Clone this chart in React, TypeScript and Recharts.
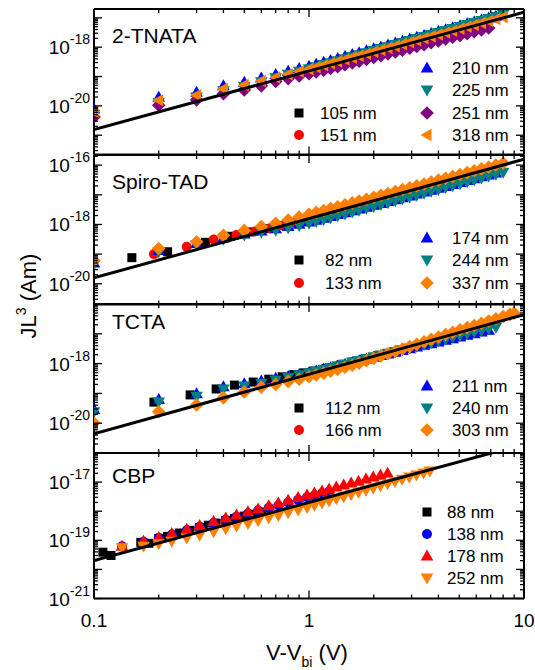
import React from 'react';
import { ScatterChart, Scatter, XAxis, YAxis } from 'recharts';

const FONT = '"Liberation Sans", Arial, Helvetica, sans-serif';

// ---- data (V - Vbi in volts, JL^3 in A·m) ----
const fitV = [0.1, 10];

// 2-TNATA
const tnataV = [0.1, 0.2, 0.3, 0.4, 0.5, 0.6, 0.7, 0.8, 0.9, 1.0, 1.08, 1.17, 1.26, 1.36, 1.47, 1.59, 1.71, 1.85, 2.0, 2.16, 2.33, 2.52, 2.72, 2.94, 3.17, 3.43, 3.7, 4.0, 4.32, 4.66, 5.04, 5.44, 5.87, 6.34, 6.85, 7.4, 8.0, 8.6];
const tnata105: number[] = [];
const tnata151: number[] = [];
const tnata210 = [7.8e-21, 1.95e-20, 2.9e-20, 4.8e-20, 6.4e-20, 8.9e-20, 1.17e-19, 1.5e-19, 1.86e-19, 2.24e-19, 2.61e-19, 3.05e-19, 3.54e-19, 4.11e-19, 4.8e-19, 5.59e-19, 6.43e-19, 7.53e-19, 8.76e-19, 1.02e-18, 1.18e-18, 1.38e-18, 1.6e-18, 1.87e-18, 2.16e-18, 2.52e-18, 2.93e-18, 3.41e-18, 3.96e-18, 4.6e-18, 5.36e-18, 6.24e-18, 7.24e-18, 8.44e-18, 9.81e-18, 1.14e-17];
const tnata225 = [5.2e-21, 1.3e-20, 2.0e-20, 3.3e-20, 4.6e-20, 6.6e-20, 9.0e-20, 1.2e-19, 1.5e-19, 1.85e-19, 2.17e-19, 2.55e-19, 2.97e-19, 3.48e-19, 4.06e-19, 4.78e-19, 5.56e-19, 6.5e-19, 7.64e-19, 8.96e-19, 1.04e-18, 1.23e-18, 1.44e-18, 1.68e-18, 1.96e-18, 2.31e-18, 2.68e-18, 3.15e-18, 3.7e-18, 4.3e-18, 5.05e-18, 5.92e-18, 6.89e-18, 8.08e-18, 9.48e-18, 1.11e-17, 1.3e-17];
const tnata251 = [4.2e-21, 1.05e-20, 1.6e-20, 2.6e-20, 3.5e-20, 4.8e-20, 6.8e-20, 8.5e-20, 1.04e-19, 1.24e-19, 1.42e-19, 1.64e-19, 1.89e-19, 2.16e-19, 2.51e-19, 2.88e-19, 3.3e-19, 3.83e-19, 4.44e-19, 5.13e-19, 5.92e-19, 6.86e-19, 7.92e-19, 9.16e-19, 1.06e-18, 1.22e-18, 1.41e-18, 1.63e-18, 1.89e-18, 2.17e-18, 2.51e-18, 2.9e-18, 3.36e-18, 3.9e-18, 4.5e-18];
const tnata318 = [6.2e-21, 1.55e-20, 2.3e-20, 3.8e-20, 5.1e-20, 7.1e-20, 9.3e-20, 1.2e-19, 1.48e-19, 1.78e-19, 2.08e-19, 2.42e-19, 2.81e-19, 3.26e-19, 3.8e-19, 4.42e-19, 5.12e-19, 5.96e-19, 6.96e-19, 8.07e-19, 9.4e-19, 1.09e-18, 1.27e-18, 1.48e-18, 1.72e-18, 2.0e-18, 2.33e-18, 2.7e-18, 3.15e-18, 3.65e-18, 4.27e-18, 4.94e-18, 5.75e-18, 6.71e-18, 7.79e-18, 9.09e-18, 1.06e-17];
const tnataFit = [1.55e-21, 1.55e-17];

// Spiro-TAD
const spiroV = tnataV;
const spiro82V = [0.15, 0.22, 0.33, 0.43, 0.53, 0.63, 0.73, 0.83, 0.93, 1.03, 1.2, 1.4];
const spiro82 = [7.6e-20, 1.2e-19, 2.5e-19, 4.0e-19, 5.6e-19, 7.2e-19, 9.3e-19, 1.15e-18, 1.38e-18, 1.62e-18, 2.1e-18, 2.8e-18];
const spiro133V = [0.19, 0.27, 0.36, 0.46, 0.56, 0.66, 0.76, 0.86, 0.96, 1.1, 1.3, 1.5, 1.8, 2.1];
const spiro133 = [1.0e-19, 1.78e-19, 3.1e-19, 4.4e-19, 5.8e-19, 7.4e-19, 9.1e-19, 1.12e-18, 1.35e-18, 1.6e-18, 2.1e-18, 2.7e-18, 3.6e-18, 4.8e-18];
const spiro174 = [5.0e-20, 1.32e-19, 2.3e-19, 3.5e-19, 4.8e-19, 6.0e-19, 7.1e-19, 8.5e-19, 1.02e-18, 1.2e-18, 1.39e-18, 1.62e-18, 1.86e-18, 2.15e-18, 2.49e-18, 2.88e-18, 3.3e-18, 3.83e-18, 4.44e-18, 5.13e-18, 5.92e-18, 6.86e-18, 7.92e-18, 9.16e-18, 1.06e-17, 1.24e-17, 1.42e-17, 1.66e-17, 1.92e-17, 2.24e-17, 2.59e-17, 3.02e-17, 3.48e-17, 4.06e-17, 4.69e-17, 5.48e-17];
const spiro244 = [4.5e-20, 1.2e-19, 2.1e-19, 3.2e-19, 4.4e-19, 5.6e-19, 6.5e-19, 7.8e-19, 9.3e-19, 1.1e-18, 1.27e-18, 1.48e-18, 1.7e-18, 1.96e-18, 2.27e-18, 2.63e-18, 3.01e-18, 3.49e-18, 4.04e-18, 4.67e-18, 5.4e-18, 6.29e-18, 7.25e-18, 8.43e-18, 9.75e-18, 1.13e-17, 1.31e-17, 1.52e-17, 1.75e-17, 2.03e-17, 2.36e-17, 2.74e-17, 3.17e-17, 3.68e-17, 4.27e-17, 4.96e-17, 5.76e-17];
const spiro337 = [6.0e-20, 1.55e-19, 2.6e-19, 4.3e-19, 6.3e-19, 8.5e-19, 1.1e-18, 1.41e-18, 1.78e-18, 2.2e-18, 2.55e-18, 2.97e-18, 3.43e-18, 3.96e-18, 4.6e-18, 5.33e-18, 6.14e-18, 7.12e-18, 8.28e-18, 9.61e-18, 1.11e-17, 1.29e-17, 1.49e-17, 1.73e-17, 2.0e-17, 2.32e-17, 2.68e-17, 3.12e-17, 3.6e-17, 4.17e-17, 4.85e-17, 5.59e-17, 6.48e-17, 7.52e-17, 8.68e-17, 1.01e-16, 1.17e-16];
const spiroFit = [1.58e-20, 1.58e-16];

// TCTA
const tctaV = [0.1, 0.2, 0.3, 0.4, 0.5, 0.6, 0.7, 0.8, 0.9, 1.0, 1.08, 1.17, 1.26, 1.36, 1.47, 1.59, 1.71, 1.85, 2.0, 2.16, 2.33, 2.52, 2.72, 2.94, 3.17, 3.43, 3.7, 4.0, 4.32, 4.66, 5.04, 5.44, 5.87, 6.34, 6.85, 7.4, 8.0, 8.6, 9.0];
const tcta112V = [0.19, 0.28, 0.37, 0.45, 0.55, 0.65, 0.75, 0.85, 0.95, 1.05, 1.2, 1.4, 1.6, 1.8, 2.1, 2.4];
const tcta112 = [5.1e-20, 8.9e-20, 1.41e-19, 1.9e-19, 2.4e-19, 3.0e-19, 3.6e-19, 4.3e-19, 4.9e-19, 5.6e-19, 6.9e-19, 8.9e-19, 1.12e-18, 1.38e-18, 1.82e-18, 2.3e-18];
const tcta166: number[] = [];
const tcta211 = [2.9e-20, 6.2e-20, 9.8e-20, 1.66e-19, 2.1e-19, 2.6e-19, 3.2e-19, 3.7e-19, 4.3e-19, 4.9e-19, 5.6e-19, 6.43e-19, 7.3e-19, 8.32e-19, 9.55e-19, 1.09e-18, 1.24e-18, 1.42e-18, 1.63e-18, 1.86e-18, 2.12e-18, 2.42e-18, 2.76e-18, 3.15e-18, 3.58e-18, 4.09e-18, 4.65e-18, 5.31e-18, 6.05e-18, 6.86e-18, 7.82e-18, 8.88e-18, 1.01e-17, 1.15e-17, 1.31e-17];
const tcta240 = [2.4e-20, 5.1e-20, 8.1e-20, 1.41e-19, 1.78e-19, 2.2e-19, 2.8e-19, 3.5e-19, 4.2e-19, 4.9e-19, 5.62e-19, 6.49e-19, 7.4e-19, 8.47e-19, 9.77e-19, 1.13e-18, 1.28e-18, 1.47e-18, 1.69e-18, 1.94e-18, 2.22e-18, 2.54e-18, 2.91e-18, 3.34e-18, 3.82e-18, 4.4e-18, 5.04e-18, 5.79e-18, 6.64e-18, 7.6e-18, 8.74e-18, 1.0e-17, 1.14e-17, 1.29e-17, 1.47e-17, 1.66e-17];
const tcta303 = [1.02e-20, 2.4e-20, 4.1e-20, 7.1e-20, 1.12e-19, 1.62e-19, 2.0e-19, 2.5e-19, 3.0e-19, 3.6e-19, 4.14e-19, 4.79e-19, 5.52e-19, 6.42e-19, 7.5e-19, 8.85e-19, 1.04e-18, 1.25e-18, 1.5e-18, 1.8e-18, 2.14e-18, 2.57e-18, 3.09e-18, 3.72e-18, 4.47e-18, 5.41e-18, 6.5e-18, 7.84e-18, 9.42e-18, 1.13e-17, 1.36e-17, 1.61e-17, 1.91e-17, 2.27e-17, 2.7e-17, 3.2e-17, 3.81e-17, 4.47e-17, 4.94e-17];
const tctaFit = [4.4e-21, 4.4e-17];

// CBP
const cbp88V = [0.11, 0.12, 0.165, 0.18, 0.2, 0.22, 0.25, 0.28, 0.31, 0.34, 0.37, 0.41, 0.45, 0.5, 0.55, 0.6];
const cbp88 = [3.9e-20, 3.0e-20, 8.5e-20, 7.9e-20, 1.17e-19, 1.35e-19, 1.78e-19, 2.2e-19, 2.75e-19, 3.3e-19, 3.9e-19, 4.7e-19, 5.6e-19, 6.8e-19, 7.9e-19, 9.3e-19];
const cbpV = [0.135, 0.17, 0.2, 0.23, 0.27, 0.31, 0.36, 0.41, 0.46, 0.52, 0.58, 0.65, 0.72, 0.8, 0.89, 0.98, 1.06, 1.15, 1.24, 1.34, 1.45, 1.57, 1.7, 1.84, 1.99, 2.15, 2.32, 2.51, 2.71, 2.93, 3.16, 3.41, 3.65];
const cbp138 = [6.2e-20, 8.9e-20, 1.2e-19, 1.58e-19, 2.2e-19, 2.9e-19, 3.9e-19, 5.1e-19, 6.5e-19, 8.3e-19, 1.05e-18, 1.32e-18, 1.58e-18, 2.0e-18, 2.45e-18, 3.0e-18, 3.48e-18, 4.1e-18, 4.77e-18];
const cbp178 = [6.3e-20, 9.3e-20, 1.26e-19, 1.7e-19, 2.4e-19, 3.2e-19, 4.4e-19, 5.8e-19, 7.4e-19, 9.5e-19, 1.2e-18, 1.55e-18, 1.9e-18, 2.4e-18, 2.95e-18, 3.6e-18, 4.21e-18, 4.96e-18, 5.77e-18, 6.73e-18, 7.88e-18, 9.24e-18, 1.08e-17, 1.27e-17, 1.49e-17, 1.73e-17, 2.02e-17];
const cbp252 = [5.6e-20, 6.3e-20, 7.6e-20, 9.3e-20, 1.2e-19, 1.48e-19, 1.95e-19, 2.5e-19, 3.1e-19, 3.8e-19, 4.7e-19, 5.9e-19, 7.1e-19, 8.9e-19, 1.1e-18, 1.35e-18, 1.6e-18, 1.9e-18, 2.24e-18, 2.66e-18, 3.15e-18, 3.75e-18, 4.45e-18, 5.28e-18, 6.26e-18, 7.44e-18, 8.83e-18, 1.05e-17, 1.25e-17, 1.49e-17, 1.76e-17, 2.07e-17, 2.4e-17];
const cbpFit = [2.0e-20, 2.0e-16];

// ---- helpers ----
type Kind = 'square' | 'circle' | 'up' | 'down' | 'diamond' | 'left';

const BLACK = '#000000';
const RED = '#ff0000';
const BLUE = '#0000ff';
const TEAL = '#008080';
const PURPLE = '#800080';
const ORANGE = '#ff8000';

const pts = (vs: number[], js: number[]) => js.map((j, i) => ({ v: vs[i], j }));

function Marker({ kind, cx, cy, fill }: { kind: Kind; cx: number; cy: number; fill: string }) {
  if (cx == null || cy == null) return null;
  switch (kind) {
    case 'square':
      return <rect x={cx - 4.5} y={cy - 4.5} width={9} height={9} fill={fill} />;
    case 'circle':
      return <circle cx={cx} cy={cy} r={5} fill={fill} />;
    case 'up':
      return <polygon points={`${cx},${cy - 6.5} ${cx + 6.3},${cy + 4.5} ${cx - 6.3},${cy + 4.5}`} fill={fill} />;
    case 'down':
      return <polygon points={`${cx},${cy + 6.5} ${cx + 6.3},${cy - 4.5} ${cx - 6.3},${cy - 4.5}`} fill={fill} />;
    case 'left':
      return <polygon points={`${cx - 6.5},${cy} ${cx + 4.5},${cy - 6.3} ${cx + 4.5},${cy + 6.3}`} fill={fill} />;
    case 'diamond':
      return <polygon points={`${cx},${cy - 6.8} ${cx + 6.8},${cy} ${cx},${cy + 6.8} ${cx - 6.8},${cy}`} fill={fill} />;
  }
  return null;
}

const logTicks = (lo: number, hi: number) => {
  const out: number[] = [];
  for (let e = Math.floor(Math.log10(lo)); e <= Math.ceil(Math.log10(hi)); e++) {
    for (let m = 1; m < 10; m++) {
      const t = m * Math.pow(10, e);
      if (t >= lo * 0.999 && t <= hi * 1.001) out.push(t);
    }
  }
  return out;
};

const isMajor = (v: number) => {
  const e = Math.round(Math.log10(v));
  return Math.abs(v / Math.pow(10, e) - 1) < 1e-6;
};

const xTicks = logTicks(0.1, 10);
const TM = 4;
const TICK = { stroke: '#000', strokeWidth: 1.3 };
const AXIS = { stroke: '#000', strokeWidth: 2 };

function LeftTick(p: any) {
  const { x, y, payload, labels } = p;
  const v = payload.value;
  const major = isMajor(v);
  const e = Math.round(Math.log10(v));
  const ax = x + TM;
  return (
    <g>
      <line x1={ax} x2={ax + (major ? 8 : 4)} y1={y} y2={y} {...TICK} />
      {major && labels.includes(e) && (
        <text x={ax - 4} y={y + 7} textAnchor="end" fontFamily={FONT} fontSize={19} fill="#000">
          10<tspan dy={-10} fontSize={14}>{`${e}`}</tspan>
        </text>
      )}
    </g>
  );
}

function RightTick(p: any) {
  const { x, y, payload } = p;
  const ax = x - TM;
  return <line x1={ax} x2={ax - (isMajor(payload.value) ? 8 : 4)} y1={y} y2={y} {...TICK} />;
}

function TopTick(p: any) {
  const { x, y, payload } = p;
  const ay = y + TM;
  return <line x1={x} x2={x} y1={ay} y2={ay + (isMajor(payload.value) ? 8 : 4)} {...TICK} />;
}

function BottomTick(p: any) {
  const { x, y, payload, showLabel } = p;
  const v = payload.value;
  const major = isMajor(v);
  const ay = y - TM;
  return (
    <g>
      <line x1={x} x2={x} y1={ay} y2={ay - (major ? 8 : 4)} {...TICK} />
      {showLabel && major && (
        <text x={x} y={ay + 28} textAnchor="middle" fontFamily={FONT} fontSize={19} fill="#000">
          {`${Math.round(v * 10) / 10}`}
        </text>
      )}
    </g>
  );
}

type Series = { name: string; kind: Kind; color: string; data: { v: number; j: number }[] };

const M = 14;

function Panel({ top, bottom, domain, labels, series, fit, last }: {
  top: number; bottom: number; domain: [number, number]; labels: number[];
  series: Series[]; fit: number[]; last?: boolean;
}) {
  const mb = last ? 70 : M;
  const h = M + (bottom - top) + mb;
  const yTicks = logTicks(domain[0], domain[1]);
  const topSeries = series[series.length - 1];
  return (
    <div style={{ position: 'absolute', left: 0, top: top - M }}>
      <ScatterChart width={535} height={h} margin={{ top: M - 1, right: 10, bottom: mb - 1, left: 0 }}>
        <XAxis xAxisId="b" orientation="bottom" dataKey="v" type="number" scale="log" domain={[0.1, 10]}
          allowDataOverflow ticks={xTicks} interval={0} height={1} tickSize={0} tickMargin={TM}
          axisLine={AXIS} tickLine={false} tick={(p: any) => <BottomTick {...p} showLabel={!!last} />} />
        <XAxis xAxisId="t" orientation="top" dataKey="v" type="number" scale="log" domain={[0.1, 10]}
          allowDataOverflow ticks={xTicks} interval={0} height={1} tickSize={0} tickMargin={TM}
          axisLine={AXIS} tickLine={false} tick={(p: any) => <TopTick {...p} />} />
        <YAxis yAxisId="l" orientation="left" dataKey="j" type="number" scale="log" domain={domain}
          allowDataOverflow ticks={yTicks} interval={0} width={94} tickSize={0} tickMargin={TM}
          axisLine={AXIS} tickLine={false} tick={(p: any) => <LeftTick {...p} labels={labels} />} />
        <YAxis yAxisId="r" orientation="right" dataKey="j" type="number" scale="log" domain={domain}
          allowDataOverflow ticks={yTicks} interval={0} width={1} tickSize={0} tickMargin={TM}
          axisLine={AXIS} tickLine={false} tick={(p: any) => <RightTick {...p} />} />
        {/* mirror axes need a series to be drawn; this one draws nothing */}
        <Scatter xAxisId="t" yAxisId="r" data={topSeries.data} isAnimationActive={false} shape={() => null} />
        {series.map((s) => (
          <Scatter key={s.name} name={s.name} xAxisId="b" yAxisId="l" data={s.data} isAnimationActive={false}
            shape={(p: any) => <Marker kind={s.kind} cx={p.cx} cy={p.cy} fill={s.color} />} />
        ))}
        {/* V^2 fit line, drawn last so it sits on top of the markers */}
        <Scatter xAxisId="b" yAxisId="l" data={pts(fitV, fit)} isAnimationActive={false}
          line={{ stroke: '#000', strokeWidth: 3 }} shape={() => null} />
      </ScatterChart>
    </div>
  );
}

const tnataSeries: Series[] = [
  { name: '105 nm', kind: 'square', color: BLACK, data: pts(tnataV, tnata105) },
  { name: '151 nm', kind: 'circle', color: RED, data: pts(tnataV, tnata151) },
  { name: '210 nm', kind: 'up', color: BLUE, data: pts(tnataV, tnata210) },
  { name: '225 nm', kind: 'down', color: TEAL, data: pts(tnataV, tnata225) },
  { name: '251 nm', kind: 'diamond', color: PURPLE, data: pts(tnataV, tnata251) },
  { name: '318 nm', kind: 'left', color: ORANGE, data: pts(tnataV, tnata318) },
];
const spiroSeries: Series[] = [
  { name: '82 nm', kind: 'square', color: BLACK, data: pts(spiro82V, spiro82) },
  { name: '133 nm', kind: 'circle', color: RED, data: pts(spiro133V, spiro133) },
  { name: '174 nm', kind: 'up', color: BLUE, data: pts(spiroV, spiro174) },
  { name: '244 nm', kind: 'down', color: TEAL, data: pts(spiroV, spiro244) },
  { name: '337 nm', kind: 'diamond', color: ORANGE, data: pts(spiroV, spiro337) },
];
const tctaSeries: Series[] = [
  { name: '112 nm', kind: 'square', color: BLACK, data: pts(tcta112V, tcta112) },
  { name: '166 nm', kind: 'circle', color: RED, data: pts(tctaV, tcta166) },
  { name: '211 nm', kind: 'up', color: BLUE, data: pts(tctaV, tcta211) },
  { name: '240 nm', kind: 'down', color: TEAL, data: pts(tctaV, tcta240) },
  { name: '303 nm', kind: 'diamond', color: ORANGE, data: pts(tctaV, tcta303) },
];
const cbpSeries: Series[] = [
  { name: '88 nm', kind: 'square', color: BLACK, data: pts(cbp88V, cbp88) },
  { name: '138 nm', kind: 'circle', color: BLUE, data: pts(cbpV, cbp138) },
  { name: '178 nm', kind: 'up', color: RED, data: pts(cbpV, cbp178) },
  { name: '252 nm', kind: 'down', color: ORANGE, data: pts(cbpV, cbp252) },
];

// legend layout: [series, markerX, textX, centerY]
type LegendItem = [Series, number, number, number];
const legendItems: LegendItem[] = [
  [tnataSeries[0], 299, 320, 113], [tnataSeries[1], 299, 320, 135],
  [tnataSeries[2], 427, 452, 68], [tnataSeries[3], 427, 452, 90],
  [tnataSeries[4], 427, 452, 113], [tnataSeries[5], 427, 452, 135],
  [spiroSeries[0], 299, 325, 260], [spiroSeries[1], 299, 325, 283],
  [spiroSeries[2], 427, 452, 238], [spiroSeries[3], 427, 452, 260], [spiroSeries[4], 427, 452, 283],
  [tctaSeries[0], 299, 325, 408], [tctaSeries[1], 299, 325, 430],
  [tctaSeries[2], 427, 452, 386], [tctaSeries[3], 427, 452, 408], [tctaSeries[4], 427, 452, 430],
  [cbpSeries[0], 427, 447, 512], [cbpSeries[1], 427, 447, 534],
  [cbpSeries[2], 427, 447, 556], [cbpSeries[3], 427, 447, 578],
];

const panelTitles: [string, number][] = [['2-TNATA', 36], ['Spiro-TAD', 182], ['TCTA', 322], ['CBP', 476]];

export default function App() {
  return (
    <div style={{ position: 'absolute', left: 0, top: 0, width: 535, height: 670, background: '#fff', fontFamily: FONT }}>
      <Panel top={9} bottom={154.5} domain={[2.2e-22, 2e-17]} labels={[-18, -20]} series={tnataSeries} fit={tnataFit} />
      <Panel top={154.5} bottom={304} domain={[2e-21, 2.2e-16]} labels={[-16, -18, -20]} series={spiroSeries} fit={spiroFit} />
      <Panel top={304} bottom={453} domain={[1e-21, 1e-16]} labels={[-18, -20]} series={tctaSeries} fit={tctaFit} />
      <Panel top={453} bottom={598.5} domain={[1e-21, 1e-16]} labels={[-17, -19, -21]} series={cbpSeries} fit={cbpFit} last />
      <svg width={535} height={670} style={{ position: 'absolute', left: 0, top: 0, pointerEvents: 'none' }}>
        {panelTitles.map(([t, y]) => (
          <text key={t} x={112} y={y + 7} fontFamily={FONT} fontSize={21} fill="#000">{t}</text>
        ))}
        {legendItems.map(([s, mx, tx, cy]) => (
          <g key={s.name + cy}>
            <Marker kind={s.kind} cx={mx} cy={cy} fill={s.color} />
            <text x={tx} y={cy + 6} fontFamily={FONT} fontSize={17} fill="#000">{s.name}</text>
          </g>
        ))}
        <text transform="translate(36,296) rotate(-90)" textAnchor="middle" fontFamily={FONT} fontSize={22} fill="#000">
          JL<tspan dy={-10} fontSize={14}>3</tspan><tspan dy={10}> (Am)</tspan>
        </text>
        <text x={307} y={660} textAnchor="middle" fontFamily={FONT} fontSize={22} fill="#000">
          V-V<tspan dy={7} fontSize={14}>bi</tspan><tspan dy={-7}> (V)</tspan>
        </text>
      </svg>
    </div>
  );
}
